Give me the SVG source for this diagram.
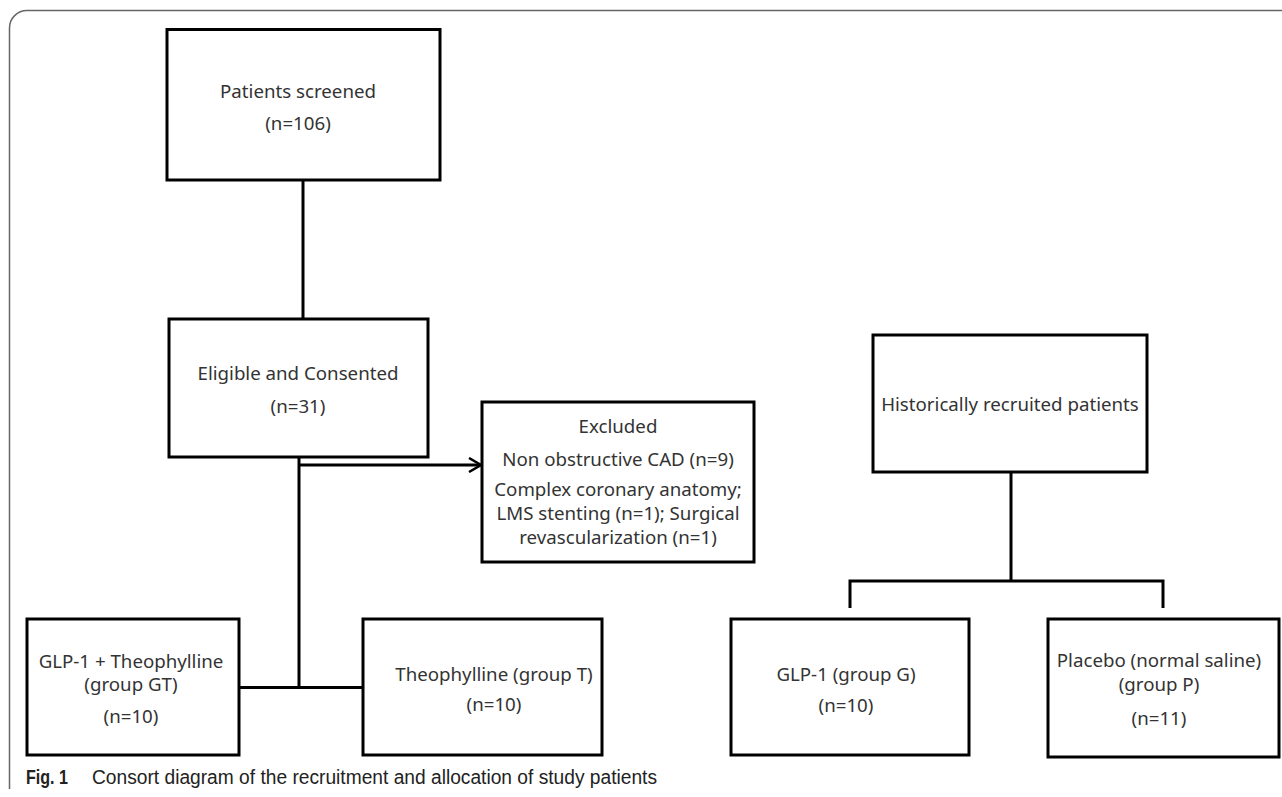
<svg xmlns="http://www.w3.org/2000/svg" width="1282" height="797" viewBox="0 0 1282 797">
<defs>
<style>
.box{fill:#fff;stroke:#000;stroke-width:3}
.t{font-family:"Noto Sans","Open Sans","Liberation Sans",sans-serif;font-size:18.7px;fill:#333;text-anchor:middle}
.ln{fill:none;stroke:#000;stroke-width:3}
.cap{font-family:"Liberation Sans","Noto Sans",sans-serif;font-size:19.5px;fill:#222}
</style>
<marker id="arr" markerWidth="16" markerHeight="16" refX="13" refY="8" orient="auto" markerUnits="userSpaceOnUse">
<path d="M1,1 L13,8 L1,15" fill="none" stroke="#000" stroke-width="2.5"/>
</marker>
</defs>
<rect x="0" y="0" width="1282" height="797" fill="#fff"/>
<path d="M9.5 789 V28 A17.5 17.5 0 0 1 27 10.5 H1282" fill="none" stroke="#666" stroke-width="1.5"/>

<g id="connectors">
<line class="ln" x1="303" y1="180" x2="303" y2="319"/>
<line class="ln" x1="299" y1="457" x2="299" y2="688.5"/>
<line class="ln" x1="299" y1="465" x2="481" y2="465" marker-end="url(#arr)"/>
<line class="ln" x1="239" y1="687.5" x2="363" y2="687.5"/>
<line class="ln" x1="1011" y1="472" x2="1011" y2="581"/>
<polyline class="ln" points="850,608 850,581 1163,581 1163,608"/>
</g>

<g id="n-screened">
<rect class="box" x="167" y="29.5" width="273" height="150.5"/>
<text class="t" x="298" y="98">Patients screened</text>
<text class="t" x="298" y="130">(n=106)</text>
</g>

<g id="n-eligible">
<rect class="box" x="169" y="319" width="259" height="138"/>
<text class="t" x="298" y="380">Eligible and Consented</text>
<text class="t" x="298" y="413">(n=31)</text>
</g>

<g id="n-excluded">
<rect class="box" x="482" y="402" width="272" height="160"/>
<text class="t" x="618" y="433">Excluded</text>
<text class="t" x="618" y="466">Non obstructive CAD (n=9)</text>
<text class="t" x="618" y="496">Complex coronary anatomy;</text>
<text class="t" x="618" y="520">LMS stenting (n=1); Surgical</text>
<text class="t" x="618" y="544">revascularization (n=1)</text>
</g>

<g id="n-gt">
<rect class="box" x="27" y="619" width="212" height="136"/>
<text class="t" x="131" y="668">GLP-1 + Theophylline</text>
<text class="t" x="131" y="691">(group GT)</text>
<text class="t" x="131" y="723">(n=10)</text>
</g>

<g id="n-t">
<rect class="box" x="363" y="619" width="239" height="136"/>
<text class="t" x="494" y="681">Theophylline (group T)</text>
<text class="t" x="494" y="711">(n=10)</text>
</g>

<g id="n-historic">
<rect class="box" x="873" y="335" width="274" height="137"/>
<text class="t" x="1010" y="411">Historically recruited patients</text>
</g>

<g id="n-g">
<rect class="box" x="731" y="619" width="238" height="136"/>
<text class="t" x="846" y="681">GLP-1 (group G)</text>
<text class="t" x="846" y="712">(n=10)</text>
</g>

<g id="n-p">
<rect class="box" x="1048" y="619" width="231" height="138"/>
<text class="t" x="1159" y="667">Placebo (normal saline)</text>
<text class="t" x="1159" y="691">(group P)</text>
<text class="t" x="1159" y="725">(n=11)</text>
</g>

<g id="caption">
<text class="cap" x="26" y="784" font-weight="bold" fill="#000" textLength="42" lengthAdjust="spacingAndGlyphs">Fig. 1</text>
<text class="cap" x="92" y="784" textLength="565" lengthAdjust="spacingAndGlyphs">Consort diagram of the recruitment and allocation of study patients</text>
</g>
</svg>
